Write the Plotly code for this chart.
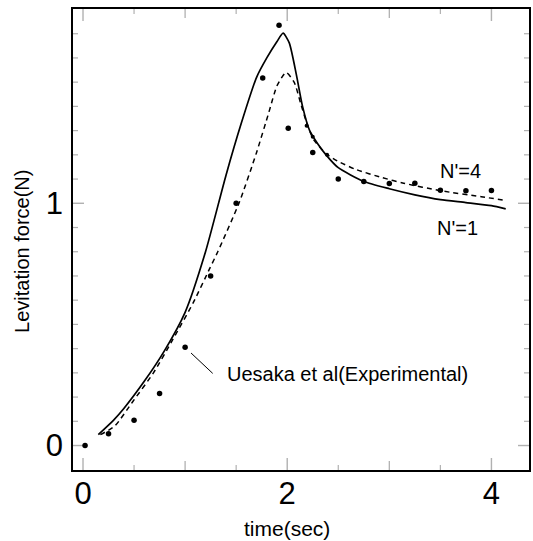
import plotly.graph_objects as go

# Theory curve N'=1 (solid)
n1_t = [0.15, 0.3, 0.4, 0.6, 0.8, 1.0, 1.2, 1.4, 1.55, 1.7, 1.8, 1.9, 1.96, 2.02, 2.09,
        2.15, 2.22, 2.3, 2.38, 2.5, 2.75, 3.0, 3.25, 3.5, 3.75, 4.0, 4.14]
n1_f = [0.045, 0.105, 0.153, 0.265, 0.393, 0.55, 0.80, 1.115, 1.33, 1.52, 1.60, 1.668, 1.702,
        1.662, 1.53, 1.40, 1.30, 1.245, 1.20, 1.147, 1.09, 1.06, 1.035, 1.015, 1.003, 0.99, 0.977]

# Theory curve N'=4 (dashed)
n4_t = [0.17, 0.31, 0.49, 0.69, 0.88, 1.08, 1.24, 1.32, 1.53, 1.7, 1.82, 1.9, 1.99, 2.07,
        2.13, 2.2, 2.26, 2.38, 2.49, 2.67, 2.93, 3.14, 3.5, 3.9, 4.14]
n4_f = [0.045, 0.08, 0.183, 0.30, 0.438, 0.59, 0.73, 0.80, 1.003, 1.21, 1.375, 1.485, 1.54,
        1.498, 1.415, 1.32, 1.262, 1.205, 1.175, 1.14, 1.106, 1.083, 1.052, 1.027, 1.012]

# Experimental points (Uesaka et al)
exp_t = [0.02, 0.25, 0.5, 0.75, 1.0, 1.25, 1.5, 1.76, 1.92, 2.01, 2.25, 2.5, 2.75,
         3.0, 3.25, 3.5, 3.75, 4.0]
exp_f = [0.0, 0.049, 0.104, 0.215, 0.406, 0.70, 1.0, 1.517, 1.735, 1.31, 1.21, 1.10, 1.09,
         1.082, 1.083, 1.054, 1.052, 1.053]

# small marks on the curves
mark_t = [2.19, 2.25, 2.39]
mark_f = [1.32, 1.275, 1.20]

x_labels = [0, 2, 4]
y_labels = [0, 1]
x_mid_ticks = [1, 3]
x_minor_ticks = [0.5, 1.5, 2.5, 3.5]
y_minor_ticks = [round(i * 0.1, 1) for i in range(0, 18) if i % 10 != 0]

X_RANGE = [-0.098, 4.368]
Y_RANGE = [-0.101, 1.802]

FONT = "Liberation Sans, Arial, sans-serif"
INK = "#000000"

fig = go.Figure()
fig.add_trace(go.Scatter(x=n1_t, y=n1_f, mode="lines",
                         line=dict(color=INK, width=1.7, shape="spline", smoothing=0.6),
                         showlegend=False, hoverinfo="skip"))
fig.add_trace(go.Scatter(x=n4_t, y=n4_f, mode="lines",
                         line=dict(color=INK, width=1.5, dash="5px,4px", shape="spline", smoothing=0.6),
                         showlegend=False, hoverinfo="skip"))
fig.add_trace(go.Scatter(x=exp_t, y=exp_f, mode="markers", marker=dict(color=INK, size=5.5),
                         showlegend=False))
fig.add_trace(go.Scatter(x=mark_t, y=mark_f, mode="markers", marker=dict(color=INK, size=4),
                         showlegend=False))

fig.add_annotation(x=1.058, y=0.382, ax=1.285, ay=0.292, xref="x", yref="y", axref="x", ayref="y",
                   text="", showarrow=True, arrowhead=0, arrowwidth=1, arrowcolor=INK)
fig.add_annotation(x=1.39, y=0.296, xref="x", yref="y", text="Uesaka et al(Experimental)",
                   showarrow=False, xanchor="left", yanchor="middle",
                   font=dict(family=FONT, size=20, color=INK))
fig.add_annotation(x=3.70, y=1.134, xref="x", yref="y", text="N'=4", showarrow=False,
                   font=dict(family=FONT, size=20, color=INK))
fig.add_annotation(x=3.67, y=0.90, xref="x", yref="y", text="N'=1", showarrow=False,
                   font=dict(family=FONT, size=20, color=INK))
fig.add_annotation(x=2.0, y=-0.126, xref="x", yref="paper", yanchor="middle", text="time(sec)",
                   showarrow=False, font=dict(family=FONT, size=21, color=INK))
fig.add_annotation(x=-0.1135, xref="paper", xanchor="center", y=0.80, yref="y", yanchor="middle",
                   text="Levitation force(N)", textangle=-90,
                   showarrow=False, font=dict(family=FONT, size=20, color=INK))


# inward ticks on all four sides, positioned by the axes (pixel-length segments)
def x_tick(v, length, width):
    for anchor, sign in ((0, 1), (1, -1)):
        fig.add_shape(type="line", xref="x", yref="paper", x0=v, x1=v,
                      ysizemode="pixel", yanchor=anchor, y0=0, y1=sign * length,
                      line=dict(color=INK, width=width), layer="above")


def y_tick(v, length, width):
    for anchor, sign in ((0, 1), (1, -1)):
        fig.add_shape(type="line", xref="paper", yref="y", y0=v, y1=v,
                      xsizemode="pixel", xanchor=anchor, x0=0, x1=sign * length,
                      line=dict(color=INK, width=width), layer="above")


for v in x_labels:
    x_tick(v, 12, 1.4)
for v in x_mid_ticks:
    x_tick(v, 9, 1.3)
for v in x_minor_ticks:
    x_tick(v, 5, 1.2)
for v in y_labels:
    y_tick(v, 11, 1.4)
for v in y_minor_ticks:
    y_tick(v, 5, 1.2)

common_line = dict(showline=True, linecolor=INK, linewidth=1.5, mirror=True,
                   showgrid=False, zeroline=False, ticks="")

fig.update_layout(
    xaxis=dict(range=X_RANGE, tickmode="array", tickvals=x_labels, ticktext=[str(v) for v in x_labels],
               tickfont=dict(family=FONT, size=31, color=INK), ticklabelstandoff=-5, **common_line),
    yaxis=dict(range=Y_RANGE, tickmode="array", tickvals=y_labels, ticktext=[str(v) for v in y_labels],
               tickfont=dict(family=FONT, size=31, color=INK), ticklabelstandoff=2, **common_line),
    template="simple_white", width=533, height=541, autosize=False,
    margin=dict(l=73, r=2, t=9, b=71),
    plot_bgcolor="white", paper_bgcolor="white")

fig.write_html("out.html")
